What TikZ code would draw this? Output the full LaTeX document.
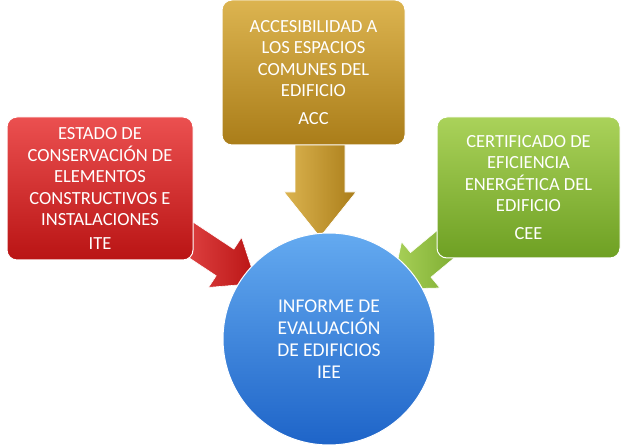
\documentclass[tikz,border=0pt]{standalone}
\usepackage{fontspec}
\setmainfont{Carlito}
\usetikzlibrary{shadings}
\definecolor{redA}{RGB}{235,80,80}\definecolor{redB}{RGB}{185,20,20}
\definecolor{yelA}{RGB}{220,180,80}\definecolor{yelB}{RGB}{170,125,25}
\definecolor{grnA}{RGB}{170,210,90}\definecolor{grnB}{RGB}{110,160,35}
\definecolor{bluA}{RGB}{100,170,240}\definecolor{bluB}{RGB}{30,100,200}
\tikzset{
 boxs/.style={rounded corners=10pt,draw=white,line width=1pt,text=white,align=center,font=\fontsize{18.5}{21.5}\selectfont,inner sep=0pt},
 arrs/.style={draw=white,line width=0.6pt},
}
% #1 tail x,#2 tail y,#3 angle,#4 length,#5 shaft half,#6 head half,#7 head length,#8 colA,#9 colB
\newcommand\bigarr[9]{%
 \begin{scope}[shift={(#1,#2)},rotate=#3]
 \draw[arrs,left color=#8,right color=#9] (0,-#5) -- ({#4-#7},-#5) -- ({#4-#7},-#6) -- (#4,0) -- ({#4-#7},#6) -- ({#4-#7},#5) -- (0,#5) -- cycle;
 \end{scope}}
\begin{document}
\begin{tikzpicture}[x=1pt,y=-1pt]
\useasboundingbox (0,0) rectangle (627,446);
\bigarr{320}{140}{-90}{97}{25}{36}{45}{yelA}{yelB}
\bigarr{170}{226}{-33.5}{104}{16}{30}{38}{redA}{redB}
\bigarr{470}{224}{-140.3}{102}{16}{30}{38}{grnA}{grnB}
\node[boxs,minimum width=186pt,minimum height=143pt,top color=redA,bottom color=redB] (r) at (100,188.5)
 {ESTADO DE\\CONSERVACIÓN DE\\ELEMENTOS\\CONSTRUCTIVOS E\\INSTALACIONES\\[2pt]ITE};
\node[boxs,minimum width=183pt,minimum height=145pt,top color=yelA,bottom color=yelB] (y) at (313.5,72.5)
 {ACCESIBILIDAD A\\LOS ESPACIOS\\COMUNES DEL\\EDIFICIO\\[6pt]ACC};
\node[boxs,minimum width=183pt,minimum height=141pt,top color=grnA,bottom color=grnB] (g) at (528.5,187.5)
 {CERTIFICADO DE\\EFICIENCIA\\ENERGÉTICA DEL\\EDIFICIO\\[6pt]CEE};
\node[circle,draw=white,line width=1pt,minimum size=212pt,inner sep=0pt,top color=bluA,bottom color=bluB,text=white,align=center,font=\fontsize{19.5}{22}\selectfont] (c) at (329,339)
 {INFORME DE\\EVALUACIÓN\\DE EDIFICIOS\\IEE};
\end{tikzpicture}
\end{document}
